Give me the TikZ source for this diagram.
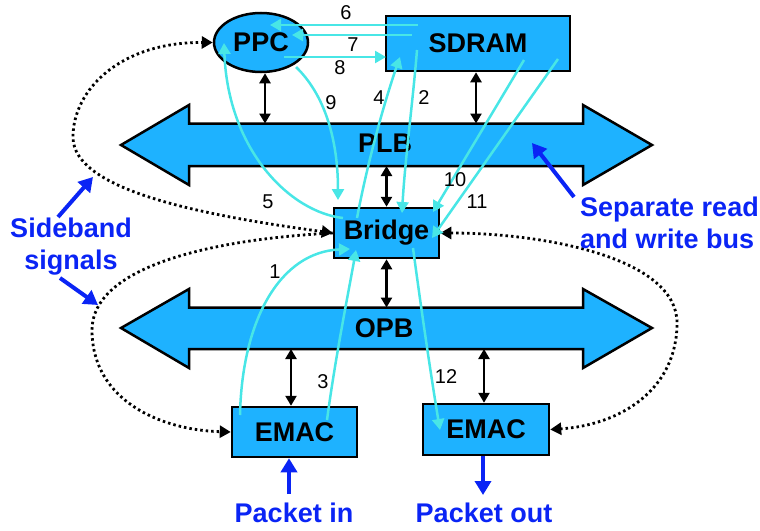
\documentclass[tikz,border=0pt]{standalone}
\usepackage{fontspec}
\setmainfont{Liberation Sans}
\usetikzlibrary{shapes.geometric,arrows.meta}
\definecolor{boxfill}{RGB}{30,178,255}
\definecolor{flowcol}{RGB}{72,230,230}
\definecolor{bluenote}{RGB}{10,36,245}
\newcommand\BigBoldFont{\fontsize{27}{32}\selectfont\bfseries}
\newcommand\NumFont{\fontsize{20}{24}\selectfont}
\begin{document}
\begin{tikzpicture}[x=1pt,y=-1pt,
  unit/.style={draw=black, line width=2.5pt, fill=boxfill, font=\BigBoldFont, inner sep=0pt},
  rectbox/.style={unit, rectangle},
  ellbox/.style={unit, ellipse},
  bus/.style={draw=black, line width=2.5pt, fill=boxfill, line join=miter},
  dbl/.style={line width=2.5pt, {Triangle[length=10pt,width=11pt]}-{Triangle[length=10pt,width=11pt]}},
  flowline/.style={draw=flowcol, line width=2.5pt, -{Triangle[length=11pt,width=12pt]}},
  sideband/.style={line width=2.8pt, dash pattern=on 2.5pt off 3pt, {Triangle[length=11pt,width=12pt]}-{Triangle[length=11pt,width=12pt]}},
  sidebandone/.style={line width=2.8pt, dash pattern=on 2.5pt off 3pt, -{Triangle[length=11pt,width=12pt]}},
  numlab/.style={font=\NumFont, inner sep=0pt},
  notetext/.style={text=bluenote, font=\BigBoldFont, inner sep=0pt, align=center},
  notearrow/.style={draw=bluenote, line width=4pt, -{Triangle[length=14pt,width=16pt]}}
]
\useasboundingbox (0,0) rectangle (760,530);

% buses
\draw[bus] (121,145) -- (189,105) -- (189,123.5) -- (583,123.5) -- (583,105) -- (652,145)
  -- (583,185) -- (583,166) -- (189,166) -- (189,185) -- cycle;
\draw[bus] (121,328) -- (189,289) -- (189,307.5) -- (583,307.5) -- (583,289) -- (652,328)
  -- (583,368) -- (583,349) -- (189,349) -- (189,368) -- cycle;
\node[font=\BigBoldFont, inner sep=0pt] (plb) at (385,143) {PLB};
\node[font=\BigBoldFont, inner sep=0pt] (opb) at (384,328) {OPB};

% units
\node[ellbox, minimum width=94pt, minimum height=59pt] (ppc) at (261,42.5) {PPC};
\node[rectbox, minimum width=184pt, minimum height=55pt] (sdram) at (478,43.5) {SDRAM};
\node[rectbox, minimum width=105pt, minimum height=50pt] (bridge) at (386.5,233) {Bridge};
\node[rectbox, minimum width=125pt, minimum height=50pt] (emacl) at (294.5,432) {EMAC};
\node[rectbox, minimum width=126pt, minimum height=51pt] (emacr) at (486,429.5) {EMAC};

% bus connections
\coordinate (plbppc) at (265,123.5);
\coordinate (plbsd) at (476,123.5);
\coordinate (plbbr) at (386.5,166);
\coordinate (opbbr) at (386.5,307.5);
\coordinate (opbel) at (291,349);
\coordinate (opber) at (484,349);
\draw[dbl] (ppc.south -| plbppc) -- (plbppc);
\draw[dbl] (sdram.south -| plbsd) -- (plbsd);
\draw[dbl] (bridge.north) -- (plbbr);
\draw[dbl] (bridge.south) -- (opbbr);
\draw[dbl] (emacl.north -| opbel) -- (opbel);
\draw[dbl] (emacr.north -| opber) -- (opber);

% sideband signals
\draw[sideband] (bridge.west) .. controls (200,215) and (73,190) .. (73,137)
  .. controls (73,90) and (120,42) .. (ppc.west);
\draw[sidebandone] (bridge.west) .. controls (200,240) and (92,270) .. (92,330)
  .. controls (92,400) and (160,430) .. (emacl.west);
\draw[sideband] (bridge.east) .. controls (545,233) and (677,258) .. (677,323)
  .. controls (677,390) and (620,425) .. (emacr.east);

% data flow
\coordinate (f6a) at (418,25);   \coordinate (f6b) at (270,25);
\coordinate (f7a) at (412,35);   \coordinate (f7b) at (292,35);
\coordinate (f8a) at (284,57);   \coordinate (f8b) at (386,57);
\coordinate (f9a) at (296,67);   \coordinate (f9b) at (338,200);
\coordinate (f5a) at (343,218);  \coordinate (f5b) at (224,43);
\coordinate (f4a) at (357,218);  \coordinate (f4b) at (400,57);
\coordinate (f2a) at (417,50);   \coordinate (f2b) at (402,213);
\coordinate (f10a) at (524,60);  \coordinate (f10b) at (433,212);
\coordinate (f11a) at (558,59);  \coordinate (f11b) at (432,238);
\coordinate (f1a) at (240,415);  \coordinate (f1b) at (350,249);
\coordinate (f3a) at (327,420);  \coordinate (f3b) at (356,250);
\coordinate (f12a) at (413,248); \coordinate (f12b) at (440,430);
\draw[flowline] (f6a) -- (f6b);
\draw[flowline] (f7a) -- (f7b);
\draw[flowline] (f8a) -- (f8b);
\draw[flowline] (f9a) .. controls (325,95) and (338,140) .. (f9b);
\draw[flowline] (f5a) .. controls (290,212) and (228,150) .. (f5b);
\draw[flowline] (f4a) .. controls (368,160) and (385,100) .. (f4b);
\draw[flowline] (f2a) .. controls (413,100) and (405,160) .. (f2b);
\draw[flowline] (f10a) -- (f10b);
\draw[flowline] (f11a) -- (f11b);
\draw[flowline] (f1a) .. controls (242,320) and (280,252) .. (f1b);
\draw[flowline] (f3a) .. controls (335,360) and (347,300) .. (f3b);
\draw[flowline] (f12a) .. controls (420,300) and (430,370) .. (f12b);

% numbers
\node[numlab] (n6) at (346,13) {6};
\node[numlab] (n7) at (353,45) {7};
\node[numlab] (n8) at (340,68) {8};
\node[numlab] (n9) at (331,103) {9};
\node[numlab] (n4) at (379,98) {4};
\node[numlab] (n2) at (424,98) {2};
\node[numlab] (n5) at (268,202) {5};
\node[numlab] (n10) at (455,180) {10};
\node[numlab] (n11) at (477,202) {11};
\node[numlab] (n1) at (275,272) {1};
\node[numlab] (n3) at (323,382) {3};
\node[numlab] (n12) at (446,377) {12};

% annotations
\node[notetext] (side) at (71,246.5) {Sideband\\signals};
\coordinate (sa1) at (58,217);  \coordinate (sa2) at (93,177);
\coordinate (sb1) at (60,278);  \coordinate (sb2) at (98,305);
\draw[notearrow] (sa1) -- (sa2);
\draw[notearrow] (sb1) -- (sb2);
\node[notetext, align=left, anchor=west] (sep) at (580,223) {Separate read\\and write bus};
\coordinate (sc1) at (574,197); \coordinate (sc2) at (532,143);
\draw[notearrow] (sc1) -- (sc2);
\node[notetext] (pin) at (294,513) {Packet in};
\node[notetext] (pout) at (484,513) {Packet out};
\coordinate (pina) at (289,494);
\coordinate (pouta) at (483,495);
\draw[notearrow] (pina) -- (pina |- emacl.south);
\draw[notearrow] (pouta |- emacr.south) -- (pouta);
\end{tikzpicture}
\end{document}
